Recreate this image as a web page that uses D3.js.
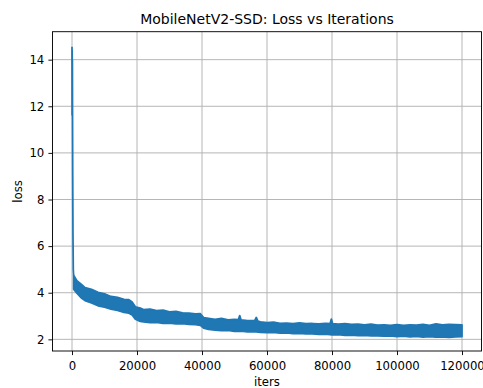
<!DOCTYPE html>
<html>
<head>
<meta charset="utf-8">
<script src="https://cdn.jsdelivr.net/npm/d3@7"></script>
<style>
  body { margin: 0; background: #fff; }
  text { font-family: "DejaVu Sans", sans-serif; fill: #000; }
</style>
</head>
<body>
<svg id="chart" width="483" height="388"></svg>
<script>
// warm-up spike at the very start of training: [iter, loss]
const warmup = [[0, 14.55], [30, 11.6], [60, 14.4], [90, 11.7], [120, 14.0], [160, 11.8],
  [220, 9.0], [300, 6.5], [400, 5.0], [500, 4.75]];

// noisy loss band, upper edge: [iter, loss]
const upperEdge = [[500, 4.75], [1500, 4.52], [3000, 4.35], [4000, 4.22], [6000, 4.15],
  [8000, 4.02], [10000, 3.95], [12000, 3.84], [14000, 3.8], [16000, 3.72], [17500, 3.7],
  [18500, 3.6], [19500, 3.4], [21000, 3.34], [22000, 3.28], [24000, 3.3], [26000, 3.23],
  [28000, 3.25], [30000, 3.18], [32000, 3.2], [34000, 3.14], [36000, 3.13], [38000, 3.09],
  [39500, 3.1], [40500, 2.93], [42000, 2.9], [44000, 2.86], [46000, 2.9], [48000, 2.84],
  [50000, 2.86], [51200, 2.85], [51600, 3.02], [52000, 2.84], [54000, 2.8], [56200, 2.8],
  [56700, 2.94], [57200, 2.78], [58000, 2.75], [60000, 2.72], [62000, 2.74], [64000, 2.69],
  [66000, 2.7], [68000, 2.68], [70000, 2.71], [72000, 2.67], [74000, 2.68], [76000, 2.66],
  [78000, 2.69], [79400, 2.67], [79800, 2.87], [80200, 2.67], [82000, 2.65], [84000, 2.68],
  [86000, 2.64], [88000, 2.65], [90000, 2.62], [92000, 2.65], [94000, 2.61], [96000, 2.62],
  [98000, 2.6], [100000, 2.63], [102000, 2.6], [104000, 2.62], [106000, 2.61], [108000, 2.64],
  [110000, 2.6], [112000, 2.66], [114000, 2.62], [116000, 2.64], [118000, 2.63], [120000, 2.62]];

// noisy loss band, lower edge: [iter, loss]
const lowerEdge = [[500, 4.15], [1500, 3.98], [3000, 3.76], [4000, 3.66], [6000, 3.56],
  [8000, 3.44], [10000, 3.38], [12000, 3.3], [14000, 3.24], [16000, 3.16], [17500, 3.12],
  [18500, 3.05], [19500, 2.86], [21000, 2.77], [22000, 2.75], [24000, 2.72], [26000, 2.73],
  [28000, 2.69], [30000, 2.7], [32000, 2.66], [34000, 2.67], [36000, 2.64], [38000, 2.63],
  [39500, 2.6], [40500, 2.48], [42000, 2.43], [44000, 2.4], [46000, 2.37], [48000, 2.38],
  [50000, 2.34], [52000, 2.35], [54000, 2.32], [56000, 2.33], [58000, 2.3], [60000, 2.29],
  [62000, 2.3], [64000, 2.27], [66000, 2.28], [68000, 2.25], [70000, 2.26], [72000, 2.24],
  [74000, 2.23], [76000, 2.21], [78000, 2.22], [80000, 2.19], [82000, 2.2], [84000, 2.17],
  [86000, 2.18], [88000, 2.16], [90000, 2.17], [92000, 2.15], [94000, 2.15], [96000, 2.14],
  [98000, 2.15], [100000, 2.12], [102000, 2.14], [104000, 2.11], [106000, 2.13], [108000, 2.1],
  [110000, 2.12], [112000, 2.09], [114000, 2.11], [116000, 2.08], [118000, 2.11], [120000, 2.12]];

const xTicks = [0, 20000, 40000, 60000, 80000, 100000, 120000];
const yTicks = [2, 4, 6, 8, 10, 12, 14];

const blue = '#1f77b4';
const m = { left: 52.5, right: 481.5, top: 31.7, bottom: 351 };
const fs = 11.7; // 10pt labels

const svg = d3.select('#chart');
svg.append('rect').attr('width', 483).attr('height', 388).attr('fill', '#fff');

const x = d3.scaleLinear().domain([-6000, 126000]).range([m.left, m.right]);
const y = d3.scaleLinear().domain([1.5, 15.2]).range([m.bottom, m.top]);

// grid
const grid = svg.append('g').attr('stroke', '#b0b0b0').attr('stroke-width', 0.93);
grid.selectAll('.gx').data(xTicks).enter().append('line')
  .attr('x1', d => x(d)).attr('x2', d => x(d))
  .attr('y1', m.top).attr('y2', m.bottom);
grid.selectAll('.gy').data(yTicks).enter().append('line')
  .attr('x1', m.left).attr('x2', m.right)
  .attr('y1', d => y(d)).attr('y2', d => y(d));

// loss band: upper edge forward, lower edge back
const line = d3.line().x(d => x(d[0])).y(d => y(d[1]));
const outline = upperEdge.concat(lowerEdge.slice().reverse());
svg.append('path')
  .attr('d', line(outline) + 'Z')
  .attr('fill', blue)
  .attr('stroke', blue)
  .attr('stroke-width', 1.75)
  .attr('stroke-linejoin', 'round');

// warm-up spike
svg.append('path')
  .attr('d', line(warmup))
  .attr('fill', 'none')
  .attr('stroke', blue)
  .attr('stroke-width', 1.75);

// axes
const xAxis = d3.axisBottom(x).tickValues(xTicks).tickSize(4.1).tickPadding(4.1).tickFormat(d3.format('d'));
const yAxis = d3.axisLeft(y).tickValues(yTicks).tickSize(4.1).tickPadding(4.1).tickFormat(d3.format('d'));

const gx = svg.append('g').attr('transform', `translate(0,${m.bottom})`).call(xAxis);
const gy = svg.append('g').attr('transform', `translate(${m.left},0)`).call(yAxis);
[gx, gy].forEach(g => {
  g.select('.domain').remove();
  g.selectAll('line').attr('stroke', '#000').attr('stroke-width', 0.93);
  g.selectAll('text').attr('font-size', fs).attr('font-family', 'DejaVu Sans').attr('fill', '#000');
});
gx.selectAll('text').attr('y', 18.5).attr('dy', 0);

// spines
svg.append('rect')
  .attr('x', m.left).attr('y', m.top)
  .attr('width', m.right - m.left).attr('height', m.bottom - m.top)
  .attr('fill', 'none').attr('stroke', '#000').attr('stroke-width', 0.93);

// labels
svg.append('text')
  .attr('x', (m.left + m.right) / 2).attr('y', 24)
  .attr('text-anchor', 'middle').attr('font-size', 14)
  .text('MobileNetV2-SSD: Loss vs Iterations');
svg.append('text')
  .attr('x', (m.left + m.right) / 2).attr('y', 385.5)
  .attr('text-anchor', 'middle').attr('font-size', fs)
  .text('iters');
svg.append('text')
  .attr('transform', `translate(21.7,${(m.top + m.bottom) / 2}) rotate(-90)`)
  .attr('text-anchor', 'middle').attr('font-size', fs)
  .text('loss');
</script>
</body>
</html>
